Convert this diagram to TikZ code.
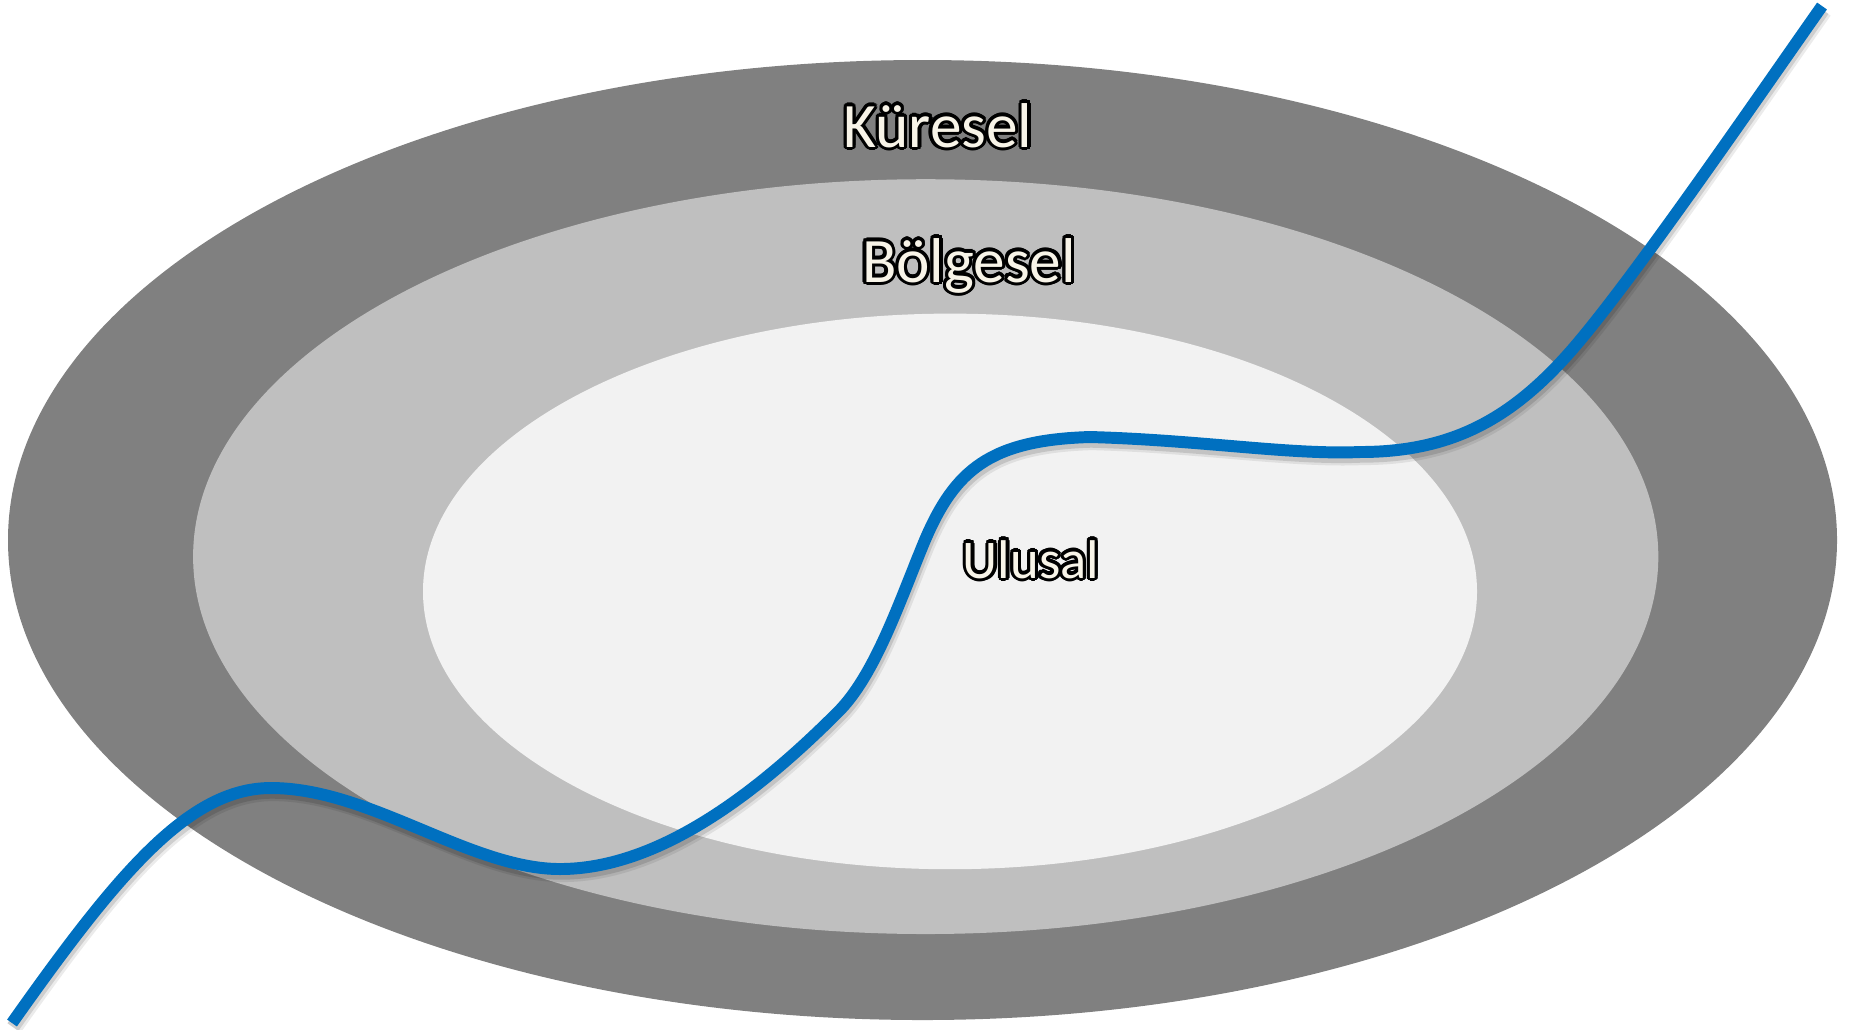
\documentclass[tikz,border=0pt]{standalone}
\usepackage{fontspec}
\setmainfont{Carlito}
\usepackage{xcolor}
\usepackage{contour}
\contourlength{0.9pt}
\definecolor{ringout}{RGB}{128,128,128}
\definecolor{ringmid}{RGB}{191,191,191}
\definecolor{ringin}{RGB}{242,242,242}
\definecolor{trendblue}{RGB}{0,112,192}
\definecolor{labelfill}{RGB}{248,244,232}
\usetikzlibrary{calc}

\newcommand{\ringlabel}[1]{\contour{black}{\textcolor{labelfill}{#1}}}
\newcommand{\trendpath}{(12,1023) .. controls (120,870) and (190,788) .. (271,788)
    .. controls (370,788) and (470,869) .. (560,869)
    .. controls (660,869) and (760,790) .. (837,713)
    .. controls (875,676) and (900,600) .. (925,540)
    .. controls (955,470) and (990,440) .. (1090,437)
    .. controls (1200,440) and (1290,455) .. (1360,452)
    .. controls (1450,452) and (1510,420) .. (1570,352)
    .. controls (1630,284) and (1760,94) .. (1822,6)}

\begin{document}
\begin{tikzpicture}[x=0.01cm, y=-0.01cm,
    bigtext/.style={font=\fontsize{18}{20}\selectfont, anchor=base, inner sep=0pt},
    smalltext/.style={font=\fontsize{15.5}{18}\selectfont, anchor=base, inner sep=0pt}]

\useasboundingbox (0,0) rectangle (1849,1029);

% === Rings ===
\fill[ringout] (922.5,540) ellipse [x radius=914.5, y radius=480];
\fill[ringmid] (925.7,556.6) ellipse [x radius=732.6, y radius=377.4];
\fill[ringin] (950,591.4) ellipse [x radius=527, y radius=277.8];

% === Labels ===
\node[bigtext] (global) at (938,147) {\ringlabel{Küresel}};
\node[bigtext] (regional) at (969,282) {\ringlabel{Bölgesel}};
\node[smalltext] (national) at (1031,578) {\ringlabel{Ulusal}};

% === Trend curve ===
% soft shadow
\draw[black, opacity=0.08, line width=4.6pt, shift={(2,5)}] \trendpath;
\draw[black, opacity=0.12, line width=3.8pt, shift={(1,4)}] \trendpath;
\draw[trendblue, line width=3.4pt] \trendpath;

\end{tikzpicture}
\end{document}
